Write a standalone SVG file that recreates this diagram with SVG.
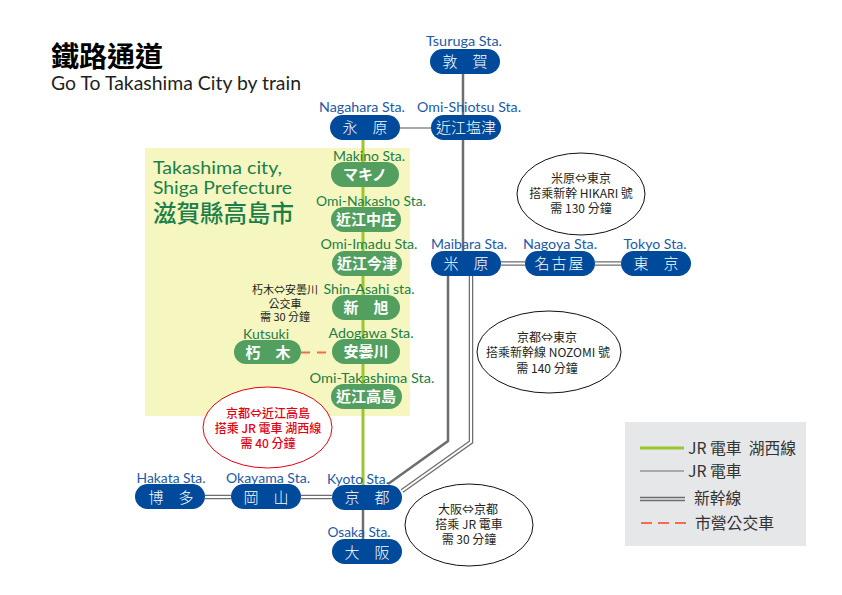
<svg xmlns="http://www.w3.org/2000/svg" width="842" height="595" viewBox="0 0 842 595">
<style>
text{font-family:"Lato","Noto Sans CJK TC",sans-serif}
.b{fill:#004a9c}.g{fill:#529f5f}
.n{font-family:"Noto Sans CJK TC",sans-serif;font-size:15px;fill:#fff;text-anchor:middle;font-weight:300}
.gn{font-weight:700}
.lb{font-size:14px;fill:#1c5aa6;text-anchor:middle}
.lg{font-size:14px;fill:#1a8048;text-anchor:middle}
.c{font-family:"Noto Sans CJK TC",sans-serif;font-size:12px;fill:#231f20;text-anchor:middle;font-weight:400}
.c2{font-size:11px}
.r{font-family:"Noto Sans CJK TC",sans-serif;font-size:12px;fill:#e60012;text-anchor:middle;font-weight:500}
.e{fill:#fff;stroke:#111;stroke-width:1}
.lgd{font-family:"Noto Sans CJK TC",sans-serif;font-size:15.800px;fill:#333;font-weight:400}
.line{fill:none}
.green{stroke:#9ac631;stroke-width:3}
.gray{stroke:#6d6e70;stroke-width:2.500}
.light{stroke:#a7a9ac;stroke-width:2}
.d1{stroke:#6d6e70;stroke-width:4.500}
.d2{stroke:#fff;stroke-width:2}
.dash{stroke:#f26c4f;stroke-width:2;stroke-dasharray:9 7}
</style>
<rect x="145" y="148" width="265" height="268" fill="#f6f6c1"/>
<g id="title">
<text x="51" y="67" font-size="28" font-weight="700" fill="#000" style="font-family:'Noto Sans CJK TC',sans-serif">鐵路通道</text>
<text x="51" y="90" font-size="19" fill="#231f20" textLength="250" lengthAdjust="spacingAndGlyphs">Go To Takashima City by train</text>
</g>
<g id="region">
<text x="153" y="174" font-size="18" fill="#1a8048" textLength="129" lengthAdjust="spacingAndGlyphs">Takashima city,</text>
<text x="153" y="194" font-size="18" fill="#1a8048" textLength="139" lengthAdjust="spacingAndGlyphs">Shiga Prefecture</text>
<text x="153" y="222" font-size="23.500" font-weight="500" fill="#1a8048" style="font-family:'Noto Sans CJK TC',sans-serif">滋賀縣高島市</text>
</g>
<g id="connectors">
<path class="line green" d="M363 140V485"/>
<path class="line gray" d="M363 510V539"/>
<path class="line gray" d="M463 74V251"/>
<path class="line light" d="M400 128H431"/>
<path class="line gray" d="M448 276V441L388 484"/>
<path class="line d1" d="M471 276V442L402 491"/>
<path class="line d2" d="M471 276V442L402 491"/>
<path class="line d1" d="M205 497H231M301 497H332M501 263.500H525M595 263.500H621"/>
<path class="line d2" d="M205 497H231M301 497H332M501 263.500H525M595 263.500H621"/>
<path class="line dash" d="M301 352.500H332"/>
</g>
<g id="tsuruga"><rect class="b" x="430" y="49" width="70" height="25" rx="12.500"/><text class="lb" x="464" y="46" textLength="76" lengthAdjust="spacingAndGlyphs">Tsuruga Sta.</text><text class="n" x="465" y="67">敦　賀</text></g>
<g id="nagahara"><rect class="b" x="330" y="115" width="70" height="25" rx="12.500"/><text class="lb" x="362" y="112" textLength="86" lengthAdjust="spacingAndGlyphs">Nagahara Sta.</text><text class="n" x="365" y="133">永　原</text></g>
<g id="shiotsu"><rect class="b" x="431" y="115" width="70" height="25" rx="12.500"/><text class="lb" x="469" y="112" textLength="104" lengthAdjust="spacingAndGlyphs">Omi-Shiotsu Sta.</text><text class="n" x="466" y="133">近江塩津</text></g>
<g id="makino"><rect class="g" x="331" y="162" width="68" height="25" rx="12.500"/><text class="lg" x="369" y="161" textLength="72" lengthAdjust="spacingAndGlyphs">Makino Sta.</text><text class="n gn" x="365" y="180">マキノ</text></g>
<g id="nakasho"><rect class="g" x="331" y="207" width="70" height="25" rx="12.500"/><text class="lg" x="371" y="206" textLength="110" lengthAdjust="spacingAndGlyphs">Omi-Nakasho Sta.</text><text class="n gn" x="366" y="225">近江中庄</text></g>
<g id="imadu"><rect class="g" x="332" y="251" width="70" height="25" rx="12.500"/><text class="lg" x="369" y="249" textLength="97" lengthAdjust="spacingAndGlyphs">Omi-Imadu Sta.</text><text class="n gn" x="367" y="269">近江今津</text></g>
<g id="shinasahi"><rect class="g" x="332" y="295" width="68" height="25" rx="12.500"/><text class="lg" x="369" y="294" textLength="91" lengthAdjust="spacingAndGlyphs">Shin-Asahi sta.</text><text class="n gn" x="366" y="313">新　旭</text></g>
<g id="adogawa"><rect class="g" x="332" y="339" width="68" height="25" rx="12.500"/><text class="lg" x="371" y="338" textLength="85" lengthAdjust="spacingAndGlyphs">Adogawa Sta.</text><text class="n gn" x="366" y="357">安曇川</text></g>
<g id="kutsuki"><rect class="g" x="234" y="340" width="67" height="24" rx="12"/><text class="lg" x="266" y="339" textLength="46" lengthAdjust="spacingAndGlyphs">Kutsuki</text><text class="n gn" x="268" y="358">朽　木</text></g>
<g id="takashima"><rect class="g" x="331" y="384" width="71" height="25" rx="12.500"/><text class="lg" x="372" y="383" textLength="125" lengthAdjust="spacingAndGlyphs">Omi-Takashima Sta.</text><text class="n gn" x="366" y="402">近江高島</text></g>
<g id="maibara"><rect class="b" x="431" y="251" width="70" height="25" rx="12.500"/><text class="lb" x="469" y="249" textLength="76" lengthAdjust="spacingAndGlyphs">Maibara Sta.</text><text class="n" x="466" y="269">米　原</text></g>
<g id="nagoya"><rect class="b" x="525" y="251" width="70" height="25" rx="12.500"/><text class="lb" x="560" y="249" textLength="74" lengthAdjust="spacingAndGlyphs">Nagoya Sta.</text><text class="n" x="560" y="269" letter-spacing="2">名古屋</text></g>
<g id="tokyo"><rect class="b" x="621" y="251" width="70" height="25" rx="12.500"/><text class="lb" x="655" y="249" textLength="63" lengthAdjust="spacingAndGlyphs">Tokyo Sta.</text><text class="n" x="656" y="269">東　京</text></g>
<g id="kyoto"><rect class="b" x="332" y="485" width="70" height="25" rx="12.500"/><text class="lb" x="358" y="484" textLength="62" lengthAdjust="spacingAndGlyphs">Kyoto Sta.</text><text class="n" x="367" y="503">京　都</text></g>
<g id="osaka"><rect class="b" x="332" y="539" width="70" height="25" rx="12.500"/><text class="lb" x="359" y="537" textLength="63" lengthAdjust="spacingAndGlyphs">Osaka Sta.</text><text class="n" x="367" y="558">大　阪</text></g>
<g id="okayama"><rect class="b" x="231" y="484" width="70" height="25" rx="12.500"/><text class="lb" x="268" y="483" textLength="84" lengthAdjust="spacingAndGlyphs">Okayama Sta.</text><text class="n" x="266" y="503">岡　山</text></g>
<g id="hakata"><rect class="b" x="135" y="484" width="70" height="25" rx="12.500"/><text class="lb" x="171" y="483" textLength="69" lengthAdjust="spacingAndGlyphs">Hakata Sta.</text><text class="n" x="171" y="503">博　多</text></g>
<g id="note-bus">
<text class="c c2" x="285" y="294">朽木⇔安曇川</text><text class="c c2" x="285" y="307.500">公交車</text><text class="c c2" x="285" y="321">需 30 分鐘</text>
</g>
<g id="note-hikari"><ellipse class="e" cx="581" cy="194" rx="64" ry="41"/>
<text class="c" x="581" y="183">米原⇔東京</text><text class="c" x="581" y="198">搭乘新幹 HIKARI 號</text><text class="c" x="581" y="213">需 130 分鐘</text></g>
<g id="note-nozomi"><ellipse class="e" cx="549" cy="352" rx="72" ry="41"/>
<text class="c" x="547" y="342">京都⇔東京</text><text class="c" x="548" y="357">搭乘新幹線 NOZOMI 號</text><text class="c" x="547" y="373">需 140 分鐘</text></g>
<g id="note-jr"><ellipse class="e" cx="469" cy="525" rx="64" ry="41"/>
<text class="c" x="468" y="514">大阪⇔京都</text><text class="c" x="469" y="529">搭乘 JR 電車</text><text class="c" x="469" y="544">需 30 分鐘</text></g>
<g id="note-kosei"><ellipse cx="267.500" cy="427.500" rx="64.500" ry="40.500" fill="#fff" stroke="#e60012"/>
<text class="r" x="268" y="418">京都⇔近江高島</text><text class="r" x="268" y="433">搭乘 JR 電車 湖西線</text><text class="r" x="268" y="448">需 40 分鐘</text></g>
<g id="legend">
<rect x="625" y="422" width="181" height="124" fill="#e6e7e8"/>
<path class="line green" d="M640 448H684"/>
<path class="line light" d="M640 471H684"/>
<path class="line" stroke="#6d6e70" stroke-width="4.500" d="M640 499H685"/>
<path class="line" stroke="#e6e7e8" stroke-width="1.500" d="M640 499H685"/>
<path class="line dash" d="M641 523H686" style="stroke-dasharray:11 6"/>
<text class="lgd" x="688" y="454" xml:space="preserve">JR 電車  湖西線</text>
<text class="lgd" x="688" y="477">JR 電車</text>
<text class="lgd" x="694" y="504">新幹線</text>
<text class="lgd" x="695" y="529">市營公交車</text>
</g>
</svg>
